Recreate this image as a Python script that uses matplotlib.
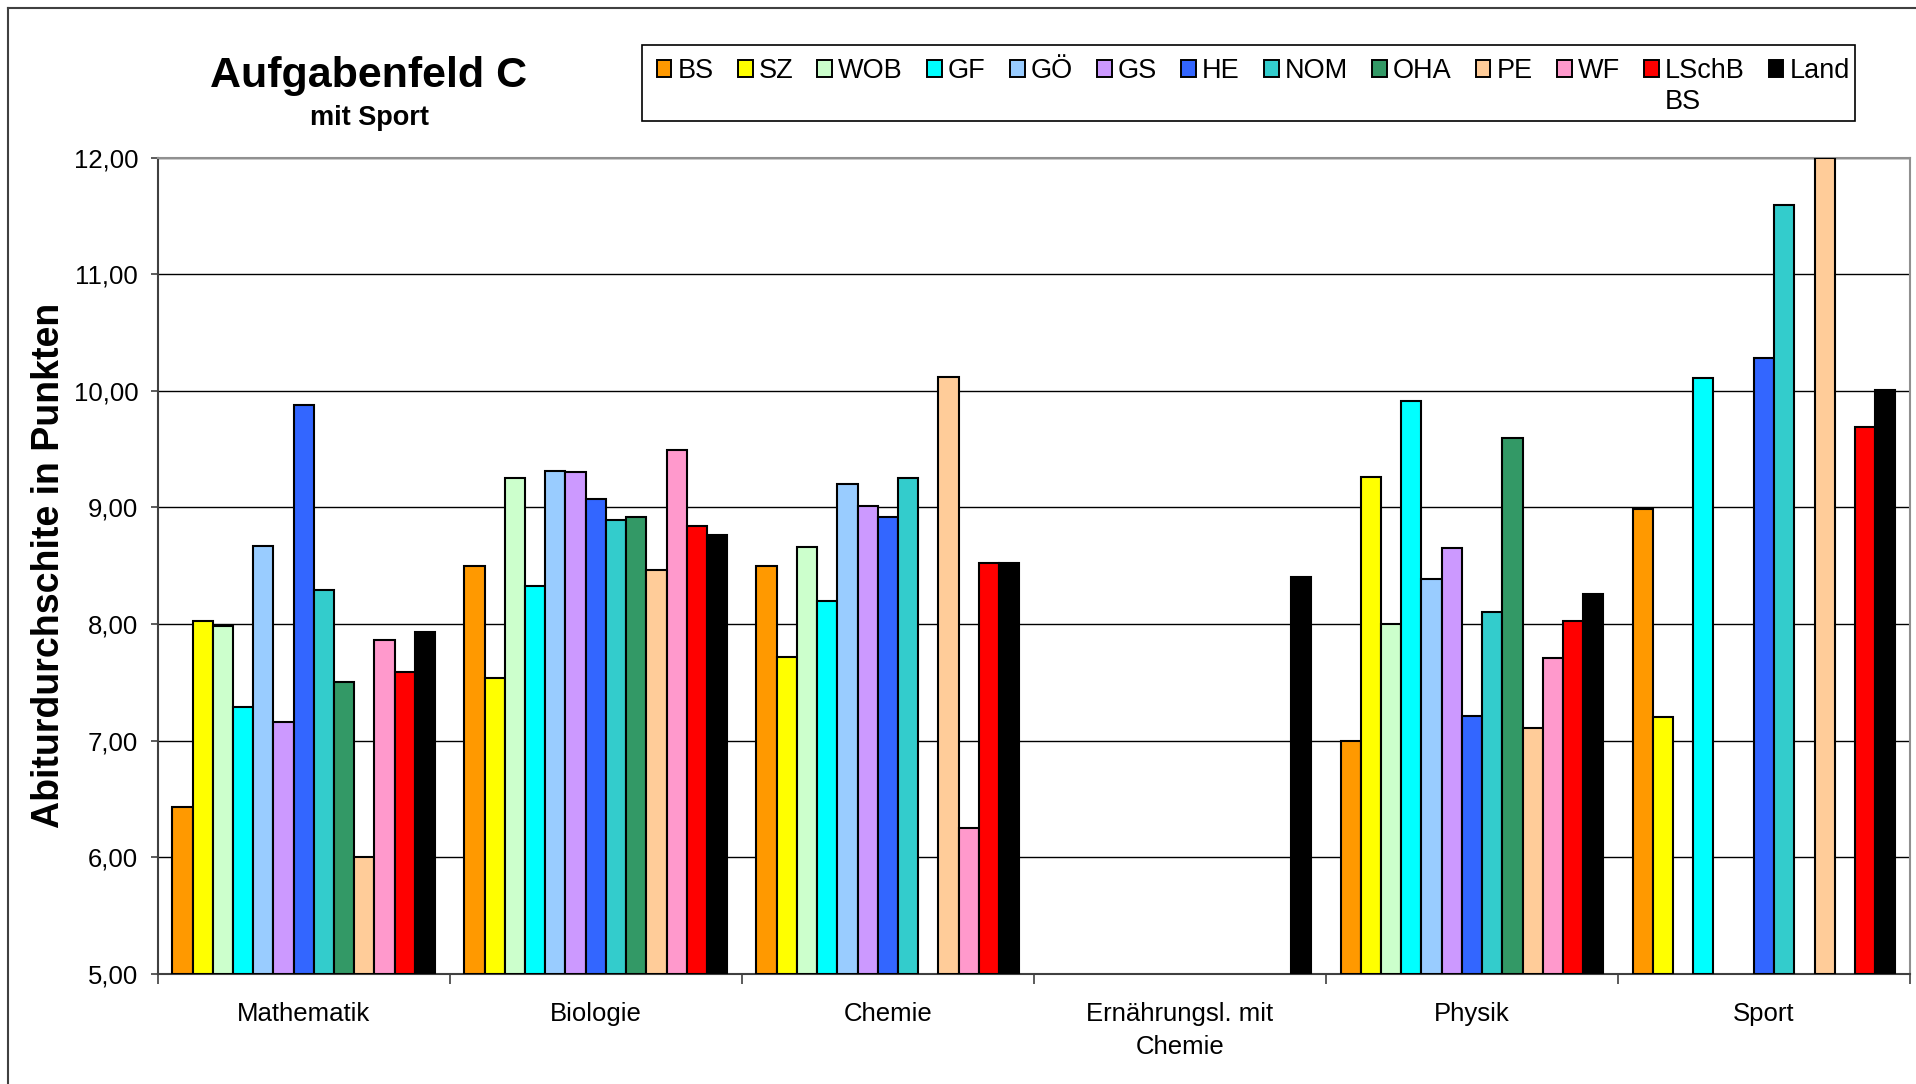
import matplotlib
matplotlib.use("Agg")
import matplotlib.pyplot as plt
from matplotlib.lines import Line2D
from matplotlib.patches import Rectangle
from matplotlib.transforms import IdentityTransform
import numpy as np

plt.rcParams['font.family'] = ['Liberation Sans', 'DejaVu Sans']

# Faecher (Kategorien)
faecher = ["Mathematik", "Biologie", "Chemie", "Ernährungsl. mit\nChemie", "Physik", "Sport"]

# Werte je Standort, None = kein Wert
BS    = [6.43, 8.50, 8.50, None, 7.00, 8.99]
SZ    = [8.03, 7.54, 7.72, None, 9.26, 7.20]
WOB   = [7.98, 9.25, 8.66, None, 8.00, None]
GF    = [7.29, 8.33, 8.20, None, 9.91, 10.11]
GOE   = [8.67, 9.31, 9.20, None, 8.39, None]
GS    = [7.16, 9.30, 9.01, None, 8.65, None]
HE    = [9.88, 9.07, 8.92, None, 7.21, 10.28]
NOM   = [8.29, 8.89, 9.25, None, 8.10, 11.59]
OHA   = [7.50, 8.92, None, None, 9.60, None]
PE    = [6.00, 8.46, 10.12, None, 7.11, 12.00]
WF    = [7.86, 9.49, 6.25, None, 7.71, None]
LSchB = [7.59, 8.84, 8.52, None, 8.03, 9.69]
Land  = [7.93, 8.76, 8.52, 8.40, 8.26, 10.01]

namen = ["BS", "SZ", "WOB", "GF", "GÖ", "GS", "HE", "NOM", "OHA", "PE", "WF", "LSchB", "Land"]
reihen = [BS, SZ, WOB, GF, GOE, GS, HE, NOM, OHA, PE, WF, LSchB, Land]
farben = ["#FF9900", "#FFFF00", "#CCFFCC", "#00FFFF", "#99CCFF", "#CC99FF", "#3366FF",
          "#33CCCC", "#339966", "#FFCC99", "#FF99CC", "#FF0000", "#000000"]

y_ticks = [5, 6, 7, 8, 9, 10, 11, 12]
y_labels = ["5,00", "6,00", "7,00", "8,00", "9,00", "10,00", "11,00", "12,00"]

W, H = 1916, 1084
fig = plt.figure(figsize=(W / 100, H / 100), dpi=100)
ax = fig.add_axes([0.0823, 0.1015, 0.9146, 0.7531])

n = len(reihen)
gruppe = 0.9
w = gruppe / n
x = np.arange(len(faecher))

for k in range(n):
    werte = np.array([np.nan if v is None else v for v in reihen[k]], dtype=float)
    pos = x - gruppe / 2 + w * (k + 0.5)
    ok = ~np.isnan(werte)
    ax.bar(pos[ok], werte[ok] - 5, bottom=5, width=w, color=farben[k],
           edgecolor="black", linewidth=1.5, zorder=3)
    # nur fuer die Legende
    ax.bar([0], [0], bottom=5, width=0, color=farben[k], edgecolor="black",
           linewidth=1.4, label=namen[k])

ax.set_ylim(5, 12)
ax.set_xlim(-0.5, len(faecher) - 0.5)
ax.set_yticks(y_ticks)
ax.set_yticklabels(y_labels, fontsize=18.5)
ax.yaxis.grid(True, color="black", linewidth=1.0, zorder=0)
ax.set_axisbelow(True)

# Ticks an den Grenzen, Beschriftung in der Mitte
ax.set_xticks(np.arange(-0.5, len(faecher), 1.0))
ax.set_xticklabels([])
ax.set_xticks(x, minor=True)
ax.set_xticklabels(faecher, minor=True, fontsize=18.5, linespacing=1.5)
ax.tick_params(axis="x", which="major", length=7, width=1.2, color="#404040")
ax.tick_params(axis="x", which="minor", length=0, pad=20)
ax.tick_params(axis="y", length=5, width=1.2, color="#404040", pad=9)

for s in ["left", "bottom"]:
    ax.spines[s].set_color("#404040")
    ax.spines[s].set_linewidth(1.5)
for s in ["top", "right"]:
    ax.spines[s].set_color("#909090")
    ax.spines[s].set_linewidth(1.5)

ax.set_ylabel("Abiturdurchschite in Punkten", fontsize=27, fontweight="bold", va="center")
ax.yaxis.set_label_coords(-0.062, 0.501)

fig.text(0.1926, 0.930, "Aufgabenfeld C", fontsize=31, fontweight="bold",
         ha="center", va="center")
fig.text(0.1926, 0.891, "mit Sport", fontsize=19.5, fontweight="bold",
         ha="center", va="center")

leg = fig.legend(loc="center left", bbox_to_anchor=(643 / W, 1 - 71 / H), ncol=n,
                 fontsize=19.5, frameon=False, borderpad=0,
                 handlelength=0.55, handleheight=0.55, handletextpad=0.22,
                 columnspacing=0.89)

# Legendenrahmen (zweizeilig wegen "LSchB BS")
fig.add_artist(Rectangle((642 / W, 1 - 121 / H), (1855 - 642) / W, 76 / H,
                         transform=fig.transFigure, fill=False,
                         edgecolor="black", linewidth=1.2))

fig.canvas.draw()
bb = leg.get_texts()[11].get_window_extent(fig.canvas.get_renderer())
fig.text(bb.x0, bb.y0 - 5, "BS", fontsize=19.5, ha="left", va="top",
         transform=IdentityTransform())

# Rahmen um das Diagramm (links und oben sichtbar)
fig.add_artist(Line2D([0.0042, 0.0042], [0, 0.9926], color="#404040", linewidth=1.5))
fig.add_artist(Line2D([0.0042, 1], [0.9926, 0.9926], color="#404040", linewidth=1.5))

fig.savefig("out.png", dpi=100)
